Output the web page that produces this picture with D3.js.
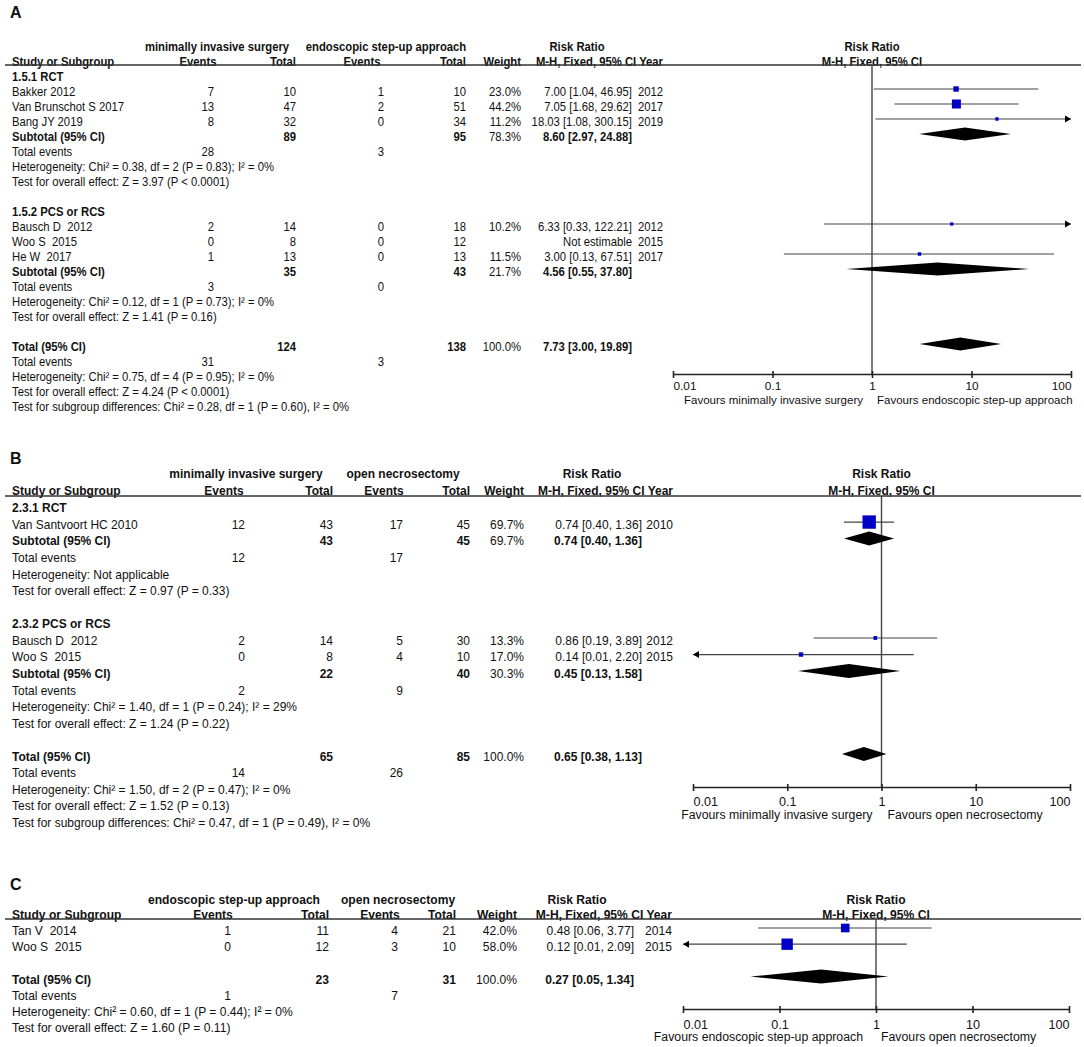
<!DOCTYPE html>
<html>
<head>
<meta charset="utf-8">
<script src="https://cdn.jsdelivr.net/npm/d3@7"></script>
<style>
body { margin: 0; background: #fff; }
text { font-family: 'Liberation Sans', Arial, sans-serif; white-space: pre; fill: #111; }
</style>
</head>
<body>
<script>
// ---------- panel A: minimally invasive surgery vs endoscopic step-up ----------
var aArms = ['minimally invasive surgery', 'endoscopic step-up approach']
var aFavours = ['Favours minimally invasive surgery', 'Favours endoscopic step-up approach']
var aGroups = ['1.5.1 RCT', '1.5.2 PCS or RCS']
var aStudy = ['Bakker 2012', 'Van Brunschot S 2017', 'Bang JY 2019', 'Bausch D  2012', 'Woo S  2015', 'He W  2017']
var aGroupOf = [0, 0, 0, 1, 1, 1]
var aEv1 = [7, 13, 8, 2, 0, 1]
var aTot1 = [10, 47, 32, 14, 8, 13]
var aEv2 = [1, 2, 0, 0, 0, 0]
var aTot2 = [10, 51, 34, 18, 12, 13]
var aWeight = [23.0, 44.2, 11.2, 10.2, null, 11.5]
var aRR = [7.00, 7.05, 18.03, 6.33, null, 3.00]
var aLo = [1.04, 1.68, 1.08, 0.33, null, 0.13]
var aHi = [46.95, 29.62, 300.15, 122.21, null, 67.51]
var aYear = [2012, 2017, 2019, 2012, 2015, 2017]
var aSubTot1 = [89, 35], aSubTot2 = [95, 43]
var aSubEv1 = [28, 3], aSubEv2 = [3, 0]
var aSubW = [78.3, 21.7]
var aSubRR = [8.60, 4.56], aSubLo = [2.97, 0.55], aSubHi = [24.88, 37.80]
var aSubHet = ['Heterogeneity: Chi\u00b2 = 0.38, df = 2 (P = 0.83); I\u00b2 = 0%', 'Heterogeneity: Chi\u00b2 = 0.12, df = 1 (P = 0.73); I\u00b2 = 0%']
var aSubZ = ['Test for overall effect: Z = 3.97 (P < 0.0001)', 'Test for overall effect: Z = 1.41 (P = 0.16)']
var aAllTot = [124, 138], aAllEv = [31, 3], aAllRR = [7.73, 3.00, 19.89]
var aAllNotes = ['Heterogeneity: Chi\u00b2 = 0.75, df = 4 (P = 0.95); I\u00b2 = 0%', 'Test for overall effect: Z = 4.24 (P < 0.0001)', 'Test for subgroup differences: Chi\u00b2 = 0.28, df = 1 (P = 0.60), I\u00b2 = 0%']

// ---------- panel B: minimally invasive surgery vs open necrosectomy ----------
var bArms = ['minimally invasive surgery', 'open necrosectomy']
var bFavours = ['Favours minimally invasive surgery', 'Favours open necrosectomy']
var bGroups = ['2.3.1 RCT', '2.3.2 PCS or RCS']
var bStudy = ['Van Santvoort HC 2010', 'Bausch D  2012', 'Woo S  2015']
var bGroupOf = [0, 1, 1]
var bEv1 = [12, 2, 0]
var bTot1 = [43, 14, 8]
var bEv2 = [17, 5, 4]
var bTot2 = [45, 30, 10]
var bWeight = [69.7, 13.3, 17.0]
var bRR = [0.74, 0.86, 0.14]
var bLo = [0.40, 0.19, 0.01]
var bHi = [1.36, 3.89, 2.20]
var bYear = [2010, 2012, 2015]
var bSubTot1 = [43, 22], bSubTot2 = [45, 40]
var bSubEv1 = [12, 2], bSubEv2 = [17, 9]
var bSubW = [69.7, 30.3]
var bSubRR = [0.74, 0.45], bSubLo = [0.40, 0.13], bSubHi = [1.36, 1.58]
var bSubHet = ['Heterogeneity: Not applicable', 'Heterogeneity: Chi\u00b2 = 1.40, df = 1 (P = 0.24); I\u00b2 = 29%']
var bSubZ = ['Test for overall effect: Z = 0.97 (P = 0.33)', 'Test for overall effect: Z = 1.24 (P = 0.22)']
var bAllTot = [65, 85], bAllEv = [14, 26], bAllRR = [0.65, 0.38, 1.13]
var bAllNotes = ['Heterogeneity: Chi\u00b2 = 1.50, df = 2 (P = 0.47); I\u00b2 = 0%', 'Test for overall effect: Z = 1.52 (P = 0.13)', 'Test for subgroup differences: Chi\u00b2 = 0.47, df = 1 (P = 0.49), I\u00b2 = 0%']

// ---------- panel C: endoscopic step-up vs open necrosectomy ----------
var cArms = ['endoscopic step-up approach', 'open necrosectomy']
var cFavours = ['Favours endoscopic step-up approach', 'Favours open necrosectomy']
var cStudy = ['Tan V  2014', 'Woo S  2015']
var cEv1 = [1, 0]
var cTot1 = [11, 12]
var cEv2 = [4, 3]
var cTot2 = [21, 10]
var cWeight = [42.0, 58.0]
var cRR = [0.48, 0.12]
var cLo = [0.06, 0.01]
var cHi = [3.77, 2.09]
var cYear = [2014, 2015]
var cAllTot = [23, 31], cAllEv = [1, 7], cAllRR = [0.27, 0.05, 1.34]
var cAllNotes = ['Heterogeneity: Chi\u00b2 = 0.60, df = 1 (P = 0.44); I\u00b2 = 0%', 'Test for overall effect: Z = 1.60 (P = 0.11)']

// axis ticks (shared)
var tickVals = [0.01, 0.1, 1, 10, 100]
var tickLabels = ['0.01', '0.1', '1', '10', '100']

var w = 1084
var h = 1047
var squeeze = 0.89 // table text in the original is a bit narrow
var textOff = 2    // row text sits a little below the marks

var svg = d3.select('body')
  .append('svg')
  .attr('width', w)
  .attr('height', h)

function fmtCI(rr, lo, hi) { return rr.toFixed(2) + ' [' + lo.toFixed(2) + ', ' + hi.toFixed(2) + ']' }
function fmtW(v) { return v.toFixed(1) + '%' }

// square side grows with study weight
var sq = d3.scaleLinear().domain([0, 100]).range([1.5, 18.5])

function drawPanel(p) {
  var g = svg.append('g')
  var fs = p.font / squeeze

  function label(x, y, s, anchor, bold, size, sx) {
    sx = sx || squeeze
    g.append('text')
      .attr('transform', 'translate(' + x + ',' + y + ') scale(' + sx + ',1)')
      .attr('dy', '0.36em')
      .attr('text-anchor', anchor || 'start')
      .attr('font-size', (size || fs) + 'px')
      .attr('font-weight', bold ? 'bold' : 'normal')
      .text(s)
  }

  // build the row list
  var rows = []
  if (p.groups) {
    p.groups.forEach(function(name, gi) {
      rows.push({type: 'group', text: name})
      p.study.forEach(function(s, i) { if (p.groupOf[i] === gi) rows.push({type: 'study', i: i}) })
      rows.push({type: 'sub', gi: gi})
      rows.push({type: 'events', e1: p.subEv1[gi], e2: p.subEv2[gi]})
      rows.push({type: 'note', text: p.subHet[gi]})
      rows.push({type: 'note', text: p.subZ[gi]})
      rows.push({type: 'blank'})
    })
  } else {
    p.study.forEach(function(s, i) { rows.push({type: 'study', i: i}) })
    rows.push({type: 'blank'})
  }
  rows.push({type: 'total'})
  rows.push({type: 'events', e1: p.allEv[0], e2: p.allEv[1]})
  p.allNotes.forEach(function(t, k) { rows.push({type: 'note', text: t, axis: k === 0}) })

  var x = d3.scaleLog().domain([0.01, 100]).range(p.fx)
  var c = p.cols
  var axisY = 0

  // panel letter + headers
  label(10, p.letterY, p.letter, 'start', true, 16, 1)
  var h1 = p.lineY + p.h1dy, h2 = p.lineY + p.h2dy
  label(p.hdr.g1, h1, p.arms[0], 'middle', true)
  label(p.hdr.g2, h1, p.arms[1], 'middle', true)
  label(p.hdr.rr, h1, 'Risk Ratio', 'middle', true)
  label(x(1), h1, 'Risk Ratio', 'middle', true)
  label(c.study, h2, 'Study or Subgroup', 'start', true)
  label(p.hdr.ev1c, h2, 'Events', 'middle', true)
  label(c.tot1, h2, 'Total', 'end', true)
  label(p.hdr.ev2c, h2, 'Events', 'middle', true)
  label(c.tot2, h2, 'Total', 'end', true)
  label(c.w, h2, 'Weight', 'end', true)
  label(c.year, h2, 'M-H, Fixed, 95% CI Year', 'end', true)
  label(x(1), h2, 'M-H, Fixed, 95% CI', 'middle', true)

  g.append('line')
    .attr('x1', 5).attr('x2', 1081)
    .attr('y1', p.lineY).attr('y2', p.lineY)
    .attr('stroke', '#333').attr('stroke-width', 1.6)

  var marks = g.append('g')

  rows.forEach(function(r, idx) {
    var y = p.row0 + idx * p.pitch
    var ty = y + textOff
    if (r.type === 'group') {
      label(c.study, ty, r.text, 'start', true)
    } else if (r.type === 'study') {
      var i = r.i
      label(c.study, ty, p.study[i])
      label(c.ev1, ty, String(p.ev1[i]), 'end')
      label(c.tot1, ty, String(p.tot1[i]), 'end')
      label(c.ev2, ty, String(p.ev2[i]), 'end')
      label(c.tot2, ty, String(p.tot2[i]), 'end')
      label(c.year, ty, String(p.year[i]), 'end')
      if (p.rr[i] == null) {
        label(c.ci, ty, 'Not estimable', 'end')
        return
      }
      label(c.w, ty, fmtW(p.weight[i]), 'end')
      label(c.ci, ty, fmtCI(p.rr[i], p.lo[i], p.hi[i]), 'end')
      // CI line, clipped to the axis range with arrows
      var lo = Math.max(p.lo[i], 0.01), hi = Math.min(p.hi[i], 100)
      marks.append('line')
        .attr('x1', x(lo)).attr('x2', x(hi))
        .attr('y1', y).attr('y2', y)
        .attr('stroke', '#444').attr('stroke-width', 1.2)
      if (p.hi[i] >= 100) {
        var xr = x(100)
        marks.append('path').attr('d', 'M' + xr + ',' + y + 'L' + (xr - 6) + ',' + (y - 3.5) + 'L' + (xr - 6) + ',' + (y + 3.5) + 'Z').attr('fill', '#000')
      }
      if (p.lo[i] <= 0.01) {
        var xl = x(0.01)
        marks.append('path').attr('d', 'M' + xl + ',' + y + 'L' + (xl + 6) + ',' + (y - 3.5) + 'L' + (xl + 6) + ',' + (y + 3.5) + 'Z').attr('fill', '#000')
      }
      var s = sq(p.weight[i])
      marks.append('rect')
        .attr('x', x(p.rr[i]) - s / 2).attr('y', y - s / 2)
        .attr('width', s).attr('height', s)
        .attr('fill', '#0000c4')
    } else if (r.type === 'sub' || r.type === 'total') {
      var tot = r.type === 'total'
      var gi = r.gi
      var t1 = tot ? p.allTot[0] : p.subTot1[gi]
      var t2 = tot ? p.allTot[1] : p.subTot2[gi]
      var wv = tot ? 100 : p.subW[gi]
      var rr = tot ? p.allRR[0] : p.subRR[gi]
      var l = tot ? p.allRR[1] : p.subLo[gi]
      var u = tot ? p.allRR[2] : p.subHi[gi]
      label(c.study, ty, tot ? 'Total (95% CI)' : 'Subtotal (95% CI)', 'start', true)
      label(c.tot1, ty, String(t1), 'end', true)
      label(c.tot2, ty, String(t2), 'end', true)
      label(c.w, ty, fmtW(wv), 'end')
      label(c.ci, ty, fmtCI(rr, l, u), 'end', true)
      var hh = p.dia
      marks.append('path')
        .attr('d', 'M' + x(l) + ',' + y + 'L' + x(rr) + ',' + (y - hh) + 'L' + x(u) + ',' + y + 'L' + x(rr) + ',' + (y + hh) + 'Z')
        .attr('fill', '#000')
    } else if (r.type === 'events') {
      label(c.study, ty, 'Total events')
      label(c.ev1, ty, String(r.e1), 'end')
      label(c.ev2, ty, String(r.e2), 'end')
    } else if (r.type === 'note') {
      label(c.study, ty, r.text)
      if (r.axis) axisY = y
    }
  })

  // line of no effect
  g.insert('line', ':first-child')
    .attr('x1', x(1)).attr('x2', x(1))
    .attr('y1', p.lineY).attr('y2', axisY)
    .attr('stroke', '#444').attr('stroke-width', 1.4)

  // log axis
  var ax = g.append('g')
    .attr('transform', 'translate(0,' + axisY + ')')
    .call(d3.axisBottom(x).tickValues(tickVals).tickFormat(function(d, i) { return tickLabels[i] }).tickSizeOuter(0).tickSizeInner(4))
  ax.select('.domain').attr('stroke', '#222').attr('stroke-width', 1.6)
  ax.selectAll('.tick line').attr('y1', -3).attr('y2', 4).attr('stroke', '#222').attr('stroke-width', 1.6)
  ax.selectAll('.tick text')
    .attr('y', p.tickDy).attr('dy', '0.36em')
    .attr('font-size', p.tickFont + 'px')
    .attr('font-family', "'Liberation Sans', Arial, sans-serif")
    .attr('text-anchor', function(d, i) { return i === 0 ? 'start' : (i === tickVals.length - 1 ? 'end' : 'middle') })

  label(x(1) - p.favGap[0], axisY + p.favDy, p.favours[0], 'end', false, p.tickFont - 0.3, 1)
  label(x(1) + p.favGap[1], axisY + p.favDy, p.favours[1], 'start', false, p.tickFont - 0.3, 1)
}

drawPanel({
  letter: 'A', letterY: 12, lineY: 65, h1dy: -19, h2dy: -4, row0: 74, pitch: 15, font: 11.3, dia: 6.5,
  cols: {study: 12, ev1: 214, tot1: 296, ev2: 384, tot2: 466, w: 521, ci: 632, year: 663},
  hdr: {g1: 217, g2: 386, rr: 577, ev1c: 198, ev2c: 362},
  fx: [673, 1071], tickDy: 12, tickFont: 11.8, favDy: 26, favGap: [9, 5],
  arms: aArms, favours: aFavours, groups: aGroups, study: aStudy, groupOf: aGroupOf,
  ev1: aEv1, tot1: aTot1, ev2: aEv2, tot2: aTot2, weight: aWeight, rr: aRR, lo: aLo, hi: aHi, year: aYear,
  subTot1: aSubTot1, subTot2: aSubTot2, subEv1: aSubEv1, subEv2: aSubEv2, subW: aSubW,
  subRR: aSubRR, subLo: aSubLo, subHi: aSubHi, subHet: aSubHet, subZ: aSubZ,
  allTot: aAllTot, allEv: aAllEv, allRR: aAllRR, allNotes: aAllNotes
})

drawPanel({
  letter: 'B', letterY: 458, lineY: 496, h1dy: -23, h2dy: -5.5, row0: 505.5, pitch: 16.56, font: 12, dia: 7,
  cols: {study: 12, ev1: 245, tot1: 333, ev2: 403, tot2: 470, w: 524, ci: 642, year: 673},
  hdr: {g1: 246, g2: 403, rr: 592, ev1c: 224, ev2c: 384},
  fx: [693, 1070], tickDy: 14, tickFont: 12.6, favDy: 28, favGap: [9, 6],
  arms: bArms, favours: bFavours, groups: bGroups, study: bStudy, groupOf: bGroupOf,
  ev1: bEv1, tot1: bTot1, ev2: bEv2, tot2: bTot2, weight: bWeight, rr: bRR, lo: bLo, hi: bHi, year: bYear,
  subTot1: bSubTot1, subTot2: bSubTot2, subEv1: bSubEv1, subEv2: bSubEv2, subW: bSubW,
  subRR: bSubRR, subLo: bSubLo, subHi: bSubHi, subHet: bSubHet, subZ: bSubZ,
  allTot: bAllTot, allEv: bAllEv, allRR: bAllRR, allNotes: bAllNotes
})

drawPanel({
  letter: 'C', letterY: 884, lineY: 919, h1dy: -19.5, h2dy: -4.5, row0: 928, pitch: 16.2, font: 12.1, dia: 7,
  cols: {study: 12, ev1: 231, tot1: 329, ev2: 398, tot2: 456, w: 517, ci: 634, year: 672},
  hdr: {g1: 234, g2: 398, rr: 577, ev1c: 213, ev2c: 380},
  fx: [683, 1069], tickDy: 15, tickFont: 12.6, favDy: 28, favGap: [13, 5],
  arms: cArms, favours: cFavours, study: cStudy,
  ev1: cEv1, tot1: cTot1, ev2: cEv2, tot2: cTot2, weight: cWeight, rr: cRR, lo: cLo, hi: cHi, year: cYear,
  allTot: cAllTot, allEv: cAllEv, allRR: cAllRR, allNotes: cAllNotes
})
</script>
</body>
</html>
